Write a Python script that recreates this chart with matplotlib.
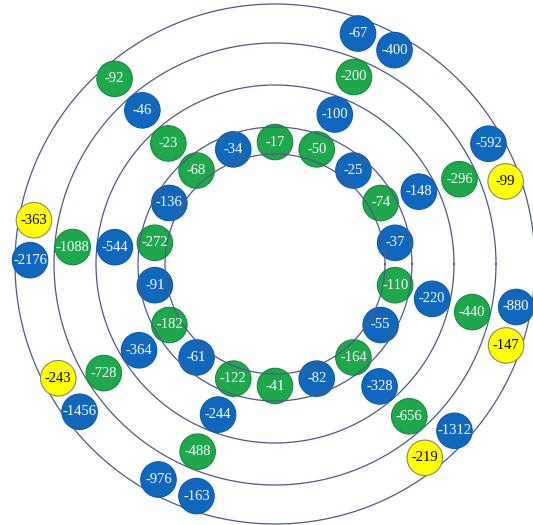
import numpy as np
import matplotlib
matplotlib.use("Agg")
import matplotlib.pyplot as plt

# ---- data ----
# inner ring: 18 evenly spaced nodes, clockwise from the top
inner_values = [-17, -50, -25, -74, -37, -110, -55, -164, -82,
                -41, -122, -61, -182, -91, -272, -136, -68, -34]
inner_colors = ["G", "G", "B", "G", "B", "G", "B", "G", "B",
                "G", "G", "B", "G", "B", "G", "B", "G", "B"]
inner_angles = [90 - 20 * k for k in range(18)]

ring2_values = [-100, -148, -220, -328, -244, -364, -544, -23]
ring2_colors = ["B", "B", "B", "B", "B", "B", "B", "G"]
ring2_angles = [68.2, 26.7, -12.5, -49.5, -110.7, -147.6, 174.0, 131.5]

ring3_values = [-200, -296, -440, -656, -488, -728, -1088, -46]
ring3_colors = ["G", "G", "G", "G", "G", "G", "G", "B"]
ring3_angles = [67.1, 24.7, -13.7, -48.6, -112.4, -147.5, 175.2, 130.8]

ring4_values = [-67, -400, -592, -99, -880, -147, -1312, -219,
                -163, -976, -1456, -243, -2176, -363, -92]
ring4_colors = ["B", "B", "B", "Y", "B", "Y", "B", "Y",
                "B", "B", "B", "Y", "B", "Y", "G"]
ring4_angles = [70.2, 60.8, 29.4, 19.7, -10.1, -19.4, -42.9, -52.3,
                -108.7, -118.4, -142.9, -152.2, 179.1, 169.7, 130.9]

# ---- styles / layout ----
ring_radius = [122, 161, 203, 245]          # radial position of node rows
circle_radii_front = [110, 137]             # inner double circle (drawn above nodes)
circle_radii_back = [179, 221, 260]
fill = {"B": "#0f68be", "G": "#1ea84b", "Y": "#ffff00"}
edge = {"B": "#0d5aa6", "G": "#178a3c", "Y": "#8a8a55"}
txt = {"B": "white", "G": "white", "Y": "black"}
line_col = "#4a5a85"

W, H = 533, 525
cx, cy = 275, 264
R = 270
fig = plt.figure(figsize=(W / 100, H / 100), dpi=100)
ax = fig.add_axes([(cx - R) / W, (H - cy - R) / H, 2 * R / W, 2 * R / H],
                  projection="polar")
ax.set_ylim(0, R)
ax.set_theta_zero_location("E")
ax.set_axis_off()

th = np.linspace(0, 2 * np.pi, 720)
for rr in circle_radii_back:
    ax.plot(th, np.full_like(th, rr), color=line_col, lw=0.9, zorder=1, clip_on=False)
for rr in circle_radii_front:
    ax.plot(th, np.full_like(th, rr), color=line_col, lw=0.9, zorder=3, clip_on=False)

rings = [(inner_values, inner_colors, inner_angles),
         (ring2_values, ring2_colors, ring2_angles),
         (ring3_values, ring3_colors, ring3_angles),
         (ring4_values, ring4_colors, ring4_angles)]

diam_pt = 35.5 * 72 / 100
for i, (vals, cols, angs) in enumerate(rings):
    t = np.deg2rad(angs)
    r = np.full(len(vals), ring_radius[i])
    ax.scatter(t, r, s=diam_pt ** 2, c=[fill[c] for c in cols],
               edgecolors=[edge[c] for c in cols], linewidths=0.8,
               zorder=2, clip_on=False)
    for tt, rv, v, c in zip(t, r, vals, cols):
        ax.text(tt, rv, str(v), ha="center", va="center", color=txt[c],
                fontsize=10.5, family="Liberation Serif", zorder=4, clip_on=False)

fig.savefig("out.png", dpi=100, facecolor="white")
